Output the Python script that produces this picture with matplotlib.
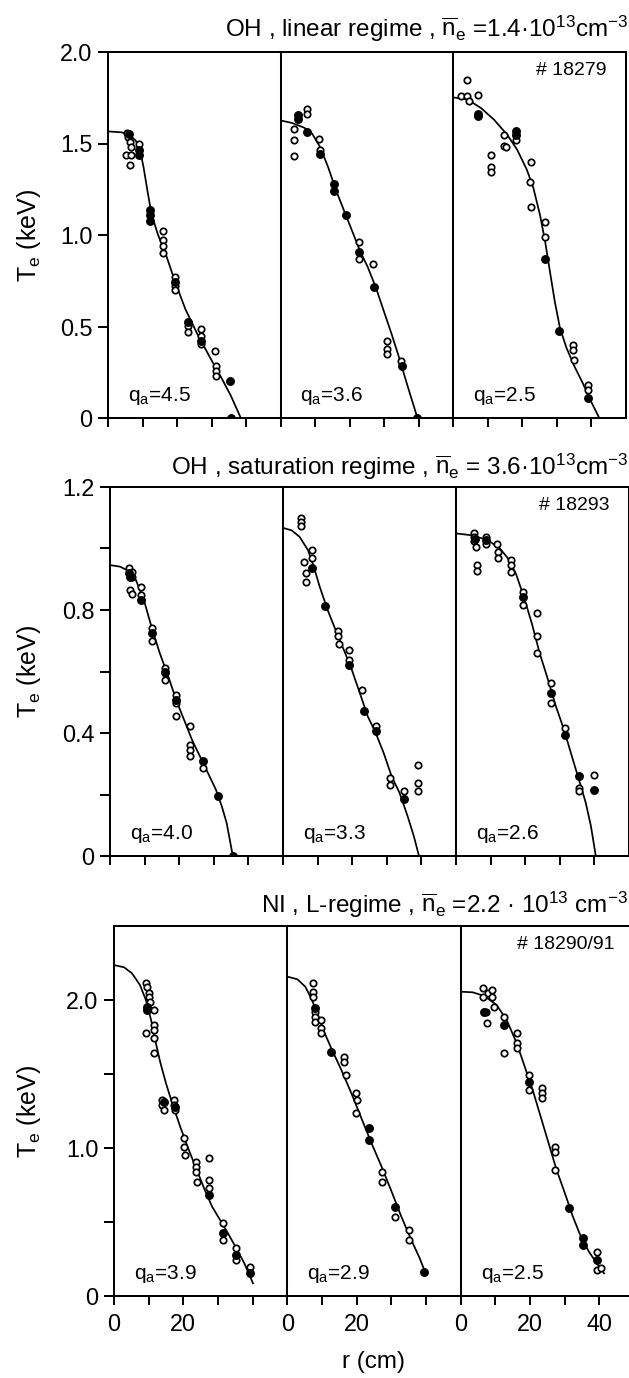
import matplotlib
matplotlib.use("Agg")
import matplotlib.pyplot as plt
from matplotlib import font_manager

# ---------------- measured electron temperature profiles ----------------
# each list holds (r [cm], Te [keV]) pairs

# row 1: OH, linear regime, shot 18279
lin_q45_open = [(5.4, 1.56), (5.7, 1.535), (6.3, 1.51), (6.6, 1.48), (5.2, 1.435), (6.7, 1.435),
                (6.3, 1.38), (9.0, 1.50), (15.9, 1.02), (15.9, 0.97), (15.9, 0.94), (15.9, 0.90),
                (19.5, 0.77), (19.5, 0.72), (19.3, 0.70), (23.2, 0.505), (23.2, 0.47), (27.0, 0.487),
                (27.0, 0.45), (27.0, 0.405), (31.0, 0.368), (31.4, 0.286), (31.4, 0.259), (31.4, 0.232)]
lin_q45_full = [(6.1, 1.553), (9.0, 1.462), (9.0, 1.435), (12.1, 1.134), (12.1, 1.107), (12.1, 1.079),
                (19.3, 0.742), (23.2, 0.523), (27.0, 0.423), (35.4, 0.204), (35.6, 0.0)]
lin_q45_fit = [(0, 1.566), (4.0, 1.561), (6.3, 1.544), (8.0, 1.517), (9.2, 1.471), (10.3, 1.371),
               (11.5, 1.234), (12.6, 1.116), (14.4, 1.006), (16.7, 0.897), (19.5, 0.742),
               (22.4, 0.596), (25.9, 0.459), (29.3, 0.34), (32.8, 0.222), (35.6, 0.122), (38.5, 0.0)]

lin_q36_open = [(4.0, 1.58), (4.0, 1.517), (4.0, 1.43), (7.8, 1.69), (7.8, 1.663), (11.3, 1.526),
                (11.5, 1.462), (22.8, 0.961), (22.8, 0.87), (26.7, 0.842), (30.8, 0.423),
                (31.0, 0.377), (31.0, 0.35), (34.8, 0.314)]
lin_q36_full = [(5.2, 1.654), (5.2, 1.635), (7.8, 1.563), (11.5, 1.444), (15.5, 1.28), (15.5, 1.243),
                (19.0, 1.107), (22.8, 0.906), (27.0, 0.715), (35.1, 0.286), (39.7, 0.0)]
lin_q36_fit = [(0, 1.626), (3.4, 1.612), (6.9, 1.586), (9.2, 1.553), (11.5, 1.48), (13.8, 1.371),
               (16.1, 1.244), (18.4, 1.134), (20.7, 1.025), (23.0, 0.915), (25.3, 0.824),
               (27.6, 0.715), (29.9, 0.587), (32.2, 0.459), (34.5, 0.323), (36.8, 0.177), (39.7, 0.0)]

lin_q25_open = [(4.0, 1.849), (2.4, 1.758), (4.0, 1.758), (4.5, 1.73), (7.3, 1.767), (14.8, 1.545),
                (18.4, 1.521), (14.8, 1.485), (15.5, 1.479), (11.0, 1.439), (11.0, 1.37),
                (11.0, 1.344), (22.6, 1.399), (22.4, 1.29), (22.6, 1.153), (26.7, 1.069),
                (26.7, 0.987), (34.8, 0.40), (34.8, 0.373), (35.0, 0.319), (39.0, 0.178),
                (39.0, 0.155)]
lin_q25_full = [(7.3, 1.661), (7.3, 1.648), (18.4, 1.566), (18.4, 1.548), (26.7, 0.871),
                (30.8, 0.474), (39.2, 0.109)]
lin_q25_fit = [(0, 1.752), (4.3, 1.74), (8.1, 1.694), (11.9, 1.63), (15.7, 1.548), (18.6, 1.466),
               (21.4, 1.357), (23.3, 1.257), (25.2, 1.111), (26.7, 0.965), (28.1, 0.80),
               (29.5, 0.637), (31.0, 0.492), (32.9, 0.383), (35.2, 0.282), (37.6, 0.191),
               (40.0, 0.091), (42.4, 0.0)]

# row 2: OH, saturation regime, shot 18293
sat_q40_open = [(5.4, 0.935), (6.4, 0.924), (6.4, 0.908), (5.8, 0.865), (6.4, 0.851), (9.0, 0.874),
                (8.9, 0.849), (12.1, 0.741), (12.1, 0.699), (15.8, 0.611), (15.8, 0.595),
                (15.8, 0.573), (19.1, 0.524), (19.1, 0.497), (19.1, 0.456), (23.1, 0.422),
                (23.1, 0.362), (23.1, 0.346), (23.1, 0.326), (26.9, 0.286)]
sat_q40_full = [(5.4, 0.919), (5.8, 0.908), (8.9, 0.832), (12.1, 0.724), (15.8, 0.60), (19.1, 0.508),
                (26.9, 0.308), (31.2, 0.195), (35.5, 0.0)]
sat_q40_fit = [(0, 0.946), (2.9, 0.941), (5.2, 0.928), (7.5, 0.897), (9.8, 0.832), (12.1, 0.741),
               (14.4, 0.659), (16.7, 0.589), (19.1, 0.508), (21.4, 0.443), (23.7, 0.378),
               (26.0, 0.324), (28.3, 0.27), (30.6, 0.216), (32.3, 0.162), (33.7, 0.108),
               (34.6, 0.054), (35.5, 0.0)]

sat_q33_open = [(5.2, 1.10), (5.2, 1.086), (5.2, 1.072), (6.0, 0.957), (6.6, 0.919), (6.6, 0.892),
                (8.3, 0.995), (8.3, 0.968), (15.8, 0.733), (15.8, 0.714), (16.2, 0.69), (19.1, 0.67),
                (19.1, 0.638), (22.7, 0.541), (27.0, 0.422), (30.8, 0.254), (30.8, 0.232),
                (35.1, 0.211), (38.9, 0.297), (38.9, 0.238), (38.9, 0.211)]
sat_q33_full = [(8.5, 0.935), (12.0, 0.814), (19.1, 0.622), (23.3, 0.470), (26.8, 0.405),
                (35.1, 0.184)]
sat_q33_fit = [(0, 1.067), (2.5, 1.059), (4.8, 1.038), (7.2, 0.995), (8.9, 0.941), (10.6, 0.876),
               (12.9, 0.80), (15.2, 0.735), (17.6, 0.67), (19.9, 0.605), (22.2, 0.530),
               (24.5, 0.454), (26.8, 0.40), (29.1, 0.335), (31.4, 0.259), (33.7, 0.205),
               (36.0, 0.130), (37.8, 0.065), (39.3, 0.0)]

sat_q26_open = [(5.2, 1.049), (5.2, 1.038), (5.2, 1.024), (5.8, 1.005), (6.1, 0.946), (6.1, 0.926),
                (8.7, 1.038), (8.7, 1.016), (11.8, 1.016), (12.1, 0.989), (12.1, 0.968),
                (15.9, 0.962), (15.9, 0.946), (15.9, 0.924), (19.4, 0.859), (19.4, 0.816),
                (23.3, 0.789), (23.3, 0.714), (23.3, 0.659), (27.5, 0.562), (27.5, 0.497),
                (31.4, 0.416), (35.6, 0.222), (35.6, 0.211), (39.8, 0.265)]
sat_q26_full = [(5.4, 1.032), (8.7, 1.027), (19.4, 0.843), (27.5, 0.53), (31.4, 0.395),
                (35.6, 0.259), (39.8, 0.216)]
sat_q26_fit = [(0, 1.049), (4.6, 1.043), (9.2, 1.027), (12.7, 1.0), (15.0, 0.968), (17.3, 0.919),
               (19.6, 0.843), (21.9, 0.757), (24.2, 0.659), (26.6, 0.573), (28.9, 0.486),
               (31.2, 0.411), (33.5, 0.324), (35.8, 0.238), (37.5, 0.173), (39.0, 0.097),
               (40.4, 0.0)]

# row 3: NI, L-regime, shots 18290/91
ni_q39_open = [(9.2, 2.113), (9.6, 2.09), (10.1, 2.045), (10.1, 2.023), (10.4, 1.989), (9.2, 1.775),
               (11.6, 1.932), (11.6, 1.831), (11.6, 1.797), (11.6, 1.741), (11.6, 1.64),
               (13.9, 1.324), (13.9, 1.291), (14.5, 1.257), (17.3, 1.324), (17.3, 1.291),
               (17.7, 1.257), (20.2, 1.065), (20.2, 1.009), (20.5, 0.953), (23.7, 0.908),
               (23.7, 0.874), (23.7, 0.84), (23.9, 0.773), (27.5, 0.935), (27.5, 0.784),
               (27.5, 0.727), (31.4, 0.491), (31.4, 0.378), (35.3, 0.322), (35.3, 0.243),
               (39.3, 0.198)]
ni_q39_full = [(9.6, 1.955), (9.6, 1.932), (14.5, 1.313), (17.6, 1.279), (27.5, 0.682),
               (31.4, 0.423), (35.3, 0.277), (39.3, 0.153)]
ni_q39_fit = [(0, 2.236), (2.9, 2.221), (5.2, 2.18), (7.5, 2.101), (9.2, 2.0), (10.7, 1.865),
              (12.1, 1.707), (13.3, 1.583), (15.0, 1.437), (16.8, 1.302), (19.1, 1.144),
              (21.4, 0.998), (23.7, 0.863), (26.0, 0.727), (28.3, 0.604), (30.6, 0.514),
              (32.9, 0.423), (35.3, 0.322), (37.6, 0.221), (40.1, 0.086)]

ni_q29_open = [(7.3, 2.113), (7.3, 2.056), (7.3, 2.018), (8.1, 1.921), (8.1, 1.887), (8.1, 1.854),
               (9.8, 1.865), (9.8, 1.809), (9.8, 1.775), (16.5, 1.617), (16.5, 1.583),
               (16.8, 1.493), (19.7, 1.369), (20.0, 1.324), (19.7, 1.234), (27.2, 0.84),
               (27.2, 0.773), (31.2, 0.536), (35.0, 0.446), (35.0, 0.378)]
ni_q29_full = [(8.1, 1.944), (12.7, 1.651), (23.5, 1.133), (23.5, 1.054), (31.2, 0.604),
               (39.3, 0.164)]
ni_q29_fit = [(0, 2.158), (2.9, 2.14), (5.2, 2.09), (6.9, 2.011), (8.7, 1.91), (10.4, 1.797),
              (12.7, 1.673), (15.6, 1.527), (18.5, 1.369), (21.4, 1.2), (24.3, 1.032),
              (27.2, 0.874), (30.1, 0.705), (32.9, 0.536), (35.8, 0.378), (38.2, 0.255),
              (40.1, 0.142)]

ni_q25_open = [(6.4, 2.079), (6.4, 2.023), (7.2, 1.921), (7.5, 1.842), (7.9, 2.045), (9.2, 2.068),
               (9.2, 2.023), (9.5, 1.955), (12.5, 1.887), (12.5, 1.64), (16.2, 1.775),
               (16.4, 1.712), (16.2, 1.673), (19.7, 1.493), (19.7, 1.392), (23.4, 1.403),
               (23.4, 1.369), (23.4, 1.336), (27.2, 1.009), (27.2, 0.975), (27.2, 0.851),
               (39.3, 0.30), (39.3, 0.176), (40.5, 0.187)]
ni_q25_full = [(6.7, 1.921), (12.5, 1.831), (19.7, 1.448), (31.2, 0.592), (35.3, 0.39),
               (35.3, 0.345), (39.3, 0.243)]
ni_q25_fit = [(0, 2.056), (3.5, 2.052), (6.9, 2.027), (10.4, 1.966), (13.3, 1.865), (16.2, 1.707),
              (18.5, 1.55), (20.8, 1.392), (23.1, 1.212), (25.4, 1.032), (27.7, 0.851),
              (30.1, 0.694), (32.4, 0.536), (34.7, 0.401), (37.0, 0.30), (39.3, 0.221),
              (41.4, 0.153)]

# row annotations
row_titles = [
    r"OH , linear regime , $\overline{\mathrm{n}}_\mathrm{e}$ =1.4·10$^{13}$cm$^{-3}$",
    r"OH , saturation regime , $\overline{\mathrm{n}}_\mathrm{e}$ = 3.6·10$^{13}$cm$^{-3}$",
    r"NI , L-regime , $\overline{\mathrm{n}}_\mathrm{e}$ =2.2 · 10$^{13}$ cm$^{-3}$",
]
shot_labels = ["# 18279", "# 18293", "# 18290/91"]
q_values = [["4.5", "3.6", "2.5"], ["4.0", "3.3", "2.6"], ["3.9", "2.9", "2.5"]]
y_ticks = [[0, 0.5, 1.0, 1.5, 2.0], [0, 0.2, 0.4, 0.6, 0.8, 1.0, 1.2], [0, 0.5, 1.0, 1.5, 2.0]]
y_ticklabels = [["0", "0.5", "1.0", "1.5", "2.0"],
                ["0", "", "0.4", "", "0.8", "", "1.2"],
                ["0", "", "1.0", "", "2.0"]]
y_max = [2.0, 1.2, 2.5]
x_ticks = [0, 10, 20, 30, 40]
x_ticklabels = [["0", "", "20", "", ""], ["0", "", "20", "", ""], ["0", "", "20", "", "40"]]

panels = [
    [(lin_q45_open, lin_q45_full, lin_q45_fit), (lin_q36_open, lin_q36_full, lin_q36_fit),
     (lin_q25_open, lin_q25_full, lin_q25_fit)],
    [(sat_q40_open, sat_q40_full, sat_q40_fit), (sat_q33_open, sat_q33_full, sat_q33_fit),
     (sat_q26_open, sat_q26_full, sat_q26_fit)],
    [(ni_q39_open, ni_q39_full, ni_q39_fit), (ni_q29_open, ni_q29_full, ni_q29_fit),
     (ni_q25_open, ni_q25_full, ni_q25_fit)],
]

# ---------------- fonts: prefer a narrow sans ----------------
_names = {f.name for f in font_manager.fontManager.ttflist}
FONT = next((f for f in ["Liberation Sans Narrow", "DejaVu Sans Condensed", "Liberation Sans"]
             if f in _names), "DejaVu Sans")
plt.rcParams["font.family"] = [FONT, "DejaVu Sans"]
plt.rcParams["mathtext.fontset"] = "custom"
plt.rcParams["mathtext.rm"] = FONT
plt.rcParams["mathtext.it"] = FONT
plt.rcParams["mathtext.bf"] = FONT

TICK_FS = 16.8
TITLE_FS = 17.5
LABEL_FS = 18.0
Q_FS = 15.0
SHOT_FS = 14.0

# ---------------- layout (pixels) ----------------
W, H = 629, 1378
# left edge, top, bottom, panel width of each row
rows_px = [(108, 52, 418, 172.5), (110, 487, 856, 173.0), (114, 926, 1296, 173.3)]
title_baseline = [37, 475, 913]
ylabel_x = 29

fig = plt.figure(figsize=(W / 100, H / 100), dpi=100)
fig.patch.set_facecolor("white")

LW = 1.45
for ri, (left, top, bottom, pw) in enumerate(rows_px):
    for ci in range(3):
        rect = [(left + ci * pw) / W, 1 - bottom / H, pw / W, (bottom - top) / H]
        ax = fig.add_axes(rect)
        ax.set_xlim(0, 50)
        ax.set_ylim(0, y_max[ri])
        for s in ax.spines.values():
            s.set_linewidth(LW)
        ax.set_xticks(x_ticks)
        if ri == 2:
            ax.set_xticklabels(x_ticklabels[ci], fontsize=TICK_FS)
        else:
            ax.set_xticklabels([])
        ax.tick_params(axis="x", direction="out", length=6.5, width=LW, pad=6)
        if ci == 0:
            ax.set_yticks(y_ticks[ri])
            ax.set_yticklabels(y_ticklabels[ri], fontsize=TICK_FS)
            ax.tick_params(axis="y", direction="out", length=7.2, width=LW, pad=4)
        else:
            ax.set_yticks([])

        open_pts, full_pts, fit_pts = panels[ri][ci]
        fr, ft = zip(*fit_pts)
        ax.plot(fr, ft, color="black", lw=1.25, solid_joinstyle="round", zorder=2)
        orr, ot = zip(*open_pts)
        ax.plot(orr, ot, ls="none", marker="o", ms=4.6, mfc="white", mec="black", mew=1.25, zorder=3)
        br, bt = zip(*full_pts)
        ax.plot(br, bt, ls="none", marker="o", ms=5.4, mfc="black", mec="black", mew=1.0, zorder=4)

        ax.text(20 / pw, 17 / (bottom - top), r"q$_\mathrm{a}$=" + q_values[ri][ci],
                transform=ax.transAxes, fontsize=Q_FS, ha="left", va="baseline")
        if ci == 2:
            ax.text(0.89, 0.95, shot_labels[ri], transform=ax.transAxes, fontsize=SHOT_FS,
                    ha="right", va="center")

    fig.text(628 / W, 1 - title_baseline[ri] / H, row_titles[ri], fontsize=TITLE_FS,
             ha="right", va="baseline")
    fig.text(ylabel_x / W, 1 - (top + bottom) / 2 / H, r"T$_\mathrm{e}$ (keV)", fontsize=LABEL_FS,
             rotation=90, ha="center", va="center")

fig.text(374 / W, 1 - 1362 / H, "r (cm)", fontsize=TITLE_FS, ha="center", va="center")

fig.savefig("out.png", dpi=100, facecolor="white")
